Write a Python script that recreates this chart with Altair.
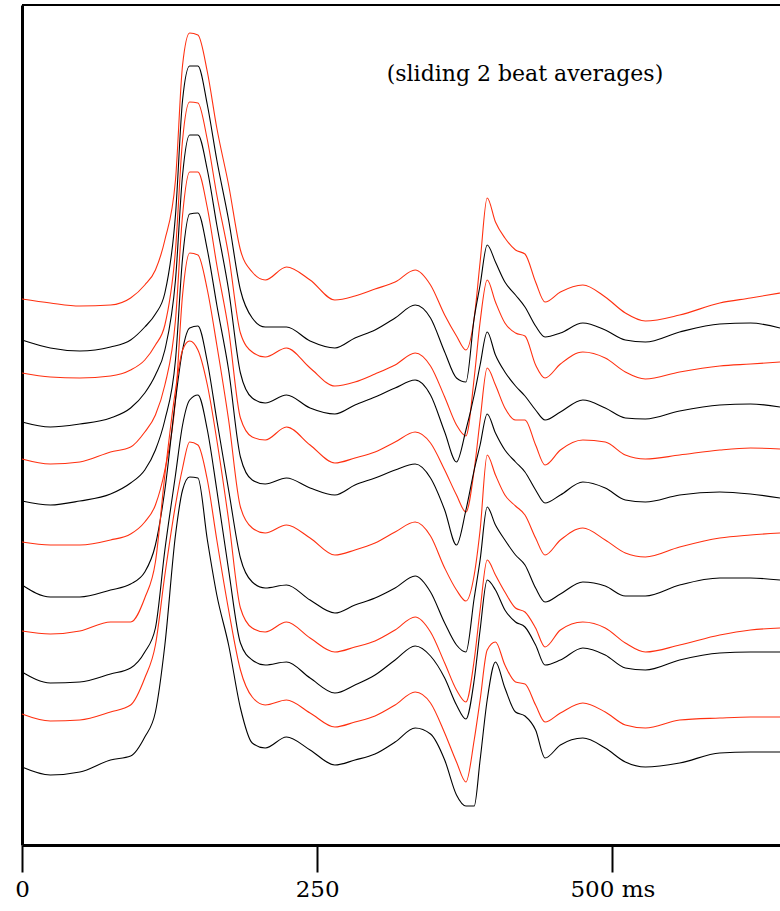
import altair as alt
import pandas as pd

# time axis (ms) of the sampled points
t_ms = [0, 24, 49, 75, 92, 104, 113, 121, 130, 136, 142, 149, 157, 165, 175, 185, 195, 206,
        224, 244, 265, 282, 299, 316, 333, 346, 358, 368, 376, 383, 388, 394, 401, 409, 418,
        426, 435, 443, 456, 475, 494, 511, 528, 557, 591, 617, 642]

# stacked traces, top to bottom (arbitrary amplitude units incl. stacking offset)
r1 = [546,542,539,540,547,560,575,605,665,780,812,810,773,717,660,595,573,565,578,565,545,549,556,563,575,560,530,509,495,527,583,647,623,607,595,591,563,543,553,560,548,532,524,530,542,547,552]
b1 = [505,497,494,498,505,518,531,552,630,745,779,779,740,685,625,555,527,518,518,504,497,507,515,527,540,527,493,467,463,527,560,600,583,563,550,538,519,508,512,522,515,505,503,513,521,522,517]
r2 = [472,468,467,469,475,485,500,520,595,705,743,742,705,650,590,512,493,488,497,477,459,463,471,480,492,479,448,420,409,467,523,565,543,522,512,509,480,467,481,493,487,473,466,473,479,481,483]
b2 = [423,418,421,427,437,452,470,495,565,670,710,710,675,620,555,472,447,442,450,437,431,440,448,457,465,450,413,383,415,450,480,513,490,473,459,449,435,425,433,445,437,427,426,434,440,441,438]
r3 = [386,381,383,393,398,413,430,460,525,630,673,673,637,580,515,427,408,405,418,400,382,387,393,403,413,402,375,350,333,375,425,477,460,437,425,425,400,380,395,405,403,390,386,390,395,397,396]
b3 = [344,340,344,351,362,375,395,425,485,587,631,632,595,540,475,388,365,361,367,357,350,360,367,375,381,367,335,300,335,375,400,431,412,395,383,373,355,342,350,363,357,345,343,350,353,351,347]
r4 = [303,300,300,305,311,323,340,375,445,550,592,590,555,500,425,338,317,312,320,307,290,295,302,313,323,309,277,255,244,270,315,390,370,350,339,330,307,290,305,317,305,292,288,298,307,310,312]
b4 = [260,248,248,255,261,273,300,355,445,495,517,519,483,425,355,287,263,257,260,245,232,240,247,257,269,253,222,200,193,247,285,338,320,305,290,280,257,243,251,263,259,249,249,260,267,267,265]
r5 = [214,211,214,223,223,247,283,370,455,495,504,495,460,405,325,237,217,213,223,207,193,198,204,215,228,213,182,155,143,185,235,285,270,253,237,233,217,198,215,223,217,202,193,200,210,215,217]
b5 = [173,162,163,171,177,193,217,295,370,420,445,450,415,355,275,202,185,180,183,167,152,160,170,185,199,189,167,140,126,165,215,265,255,235,223,218,200,180,185,197,190,177,175,185,192,193,193]
r6 = [131,124,125,133,140,167,200,270,340,377,403,400,365,305,235,175,148,140,145,132,118,123,129,140,153,142,112,83,63,105,145,195,203,180,163,161,140,123,132,142,133,120,117,125,127,128,128]
b6 = [78,70,73,85,89,108,133,200,310,355,368,367,305,250,200,137,102,97,108,95,80,85,91,103,117,111,85,50,39,39,85,145,183,157,133,129,115,87,100,107,97,83,78,82,92,93,93]

trace_names = ["r1", "b1", "r2", "b2", "r3", "b3", "r4", "b4", "r5", "b5", "r6", "b6"]
trace_vals = [r1, b1, r2, b2, r3, b3, r4, b4, r5, b5, r6, b6]
trace_kind = ["red", "black"] * 6

annotation = "(sliding 2 beat averages)"
tick_values = [0, 250, 500]

rows = []
for name, vals, kind in zip(trace_names, trace_vals, trace_kind):
    for t, v in zip(t_ms, vals):
        rows.append({"t": t, "v": v, "trace": name, "kind": kind})
df = pd.DataFrame(rows)

SERIF = "DejaVu Serif"

x_enc = alt.X(
    "t:Q",
    scale=alt.Scale(domain=[0, 642], nice=False, zero=False),
    axis=alt.Axis(
        values=tick_values,
        labelExpr="datum.value == 500 ? '500 ms' : datum.label",
        title=None, grid=False,
        domainColor="black", domainWidth=3,
        tickColor="black", tickWidth=2, tickSize=27,
        labelFont=SERIF, labelFontSize=23, labelColor="black",
        labelPadding=6, labelFlush=False,
    ),
)
y_enc = alt.Y(
    "v:Q",
    scale=alt.Scale(domain=[0, 840], nice=False, zero=False),
    axis=alt.Axis(labels=False, ticks=False, grid=False, title=None,
                  domainColor="black", domainWidth=3),
)

lines = alt.Chart(df).mark_line(strokeWidth=1.1, interpolate="monotone").encode(
    x=x_enc,
    y=y_enc,
    color=alt.Color("kind:N", scale=alt.Scale(domain=["red", "black"],
                                              range=["#ff3010", "#000000"]), legend=None),
    detail="trace:N",
)

label_df = pd.DataFrame({"t": [426], "v": [771], "label": [annotation]})
text = alt.Chart(label_df).mark_text(
    font=SERIF, fontSize=22, align="center", baseline="middle", color="black"
).encode(x="t:Q", y="v:Q", text="label:N")

top = alt.Chart(pd.DataFrame({"a": [0]})).mark_rule(color="black", strokeWidth=2).encode(
    y=alt.value(0), x=alt.value(0), x2=alt.value(760)
)

chart = alt.layer(lines, text, top).properties(
    width=758, height=840,
    autosize=alt.AutoSizeParams(type="none"),
    padding={"left": 22, "top": 5, "right": 0, "bottom": 66},
).configure_view(stroke=None)

chart.save("out.html", embed_options={"renderer": "svg", "actions": False})
